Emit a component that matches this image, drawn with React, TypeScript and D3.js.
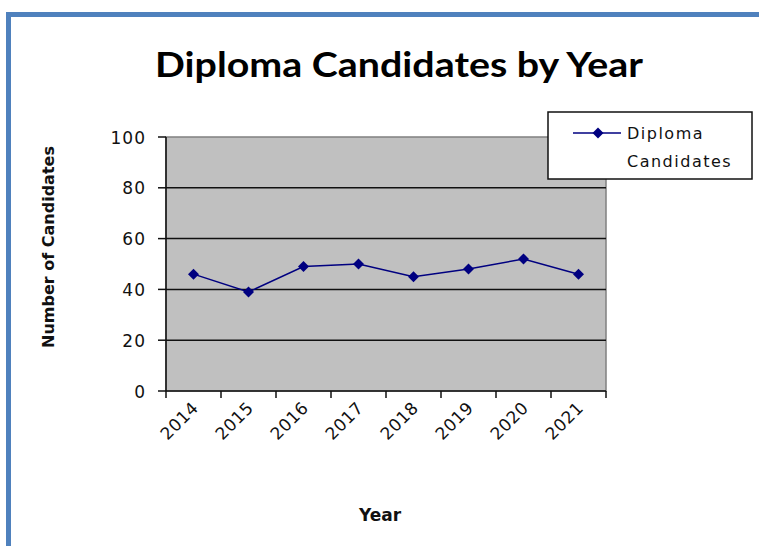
import React from "react";
import * as d3 from "d3";

const years = ["2014", "2015", "2016", "2017", "2018", "2019", "2020", "2021"];
const candidates = [46, 39, 49, 50, 45, 48, 52, 46];
const yTicks = [0, 20, 40, 60, 80, 100];
const seriesName = ["Diploma", "Candidates"];

const W = 759;
const H = 546;
const plot = { left: 166, right: 606, top: 137, bottom: 391 };
const tickFont = "'DejaVu Sans', Verdana, sans-serif";

export default function App() {
  const x = d3.scaleBand<string>().domain(years).range([plot.left, plot.right]);
  const y = d3.scaleLinear().domain([0, 100]).range([plot.bottom, plot.top]);
  const line = d3
    .line<number>()
    .x((_, i) => (x(years[i]) as number) + x.bandwidth() / 2)
    .y((d) => y(d));
  const diamond = (cx: number, cy: number, r: number) =>
    `M${cx},${cy - r}L${cx + r},${cy}L${cx},${cy + r}L${cx - r},${cy}Z`;
  const boundaries = d3.range(years.length + 1).map((i) => plot.left + i * x.bandwidth());

  return (
    <svg
      width={W}
      height={H}
      style={{ position: "absolute", left: 0, top: 0, background: "#fff" }}
    >
      <rect x={8.5} y={14.5} width={900} height={700} fill="#fff" stroke="#4f81bd" strokeWidth={5} />
      <text
        x={155}
        y={77}
        textLength={488}
        lengthAdjust="spacingAndGlyphs"
        fontFamily="Lato, 'Open Sans', sans-serif"
        fontWeight="bold"
        fontSize={35}
        fill="#000"
      >
        Diploma Candidates by Year
      </text>

      <rect
        x={plot.left}
        y={plot.top}
        width={plot.right - plot.left}
        height={plot.bottom - plot.top}
        fill="#c0c0c0"
        stroke="#808080"
        strokeWidth={1.5}
      />
      {yTicks.slice(1, -1).map((t) => (
        <line key={t} x1={plot.left} x2={plot.right} y1={y(t)} y2={y(t)} stroke="#111" strokeWidth={1.5} />
      ))}
      {/* y axis */}
      <line x1={plot.left} x2={plot.left} y1={plot.top} y2={plot.bottom} stroke="#111" strokeWidth={1.5} />
      {yTicks.map((t) => (
        <g key={t}>
          <line x1={plot.left - 8} x2={plot.left} y1={y(t)} y2={y(t)} stroke="#111" strokeWidth={1.5} />
          <text
            x={146}
            y={y(t) + 6.5}
            textAnchor="end"
            fontFamily={tickFont}
            fontSize={17}
            letterSpacing={1}
            fill="#111"
          >
            {t}
          </text>
        </g>
      ))}
      {/* x axis */}
      <line x1={plot.left} x2={plot.right} y1={plot.bottom} y2={plot.bottom} stroke="#111" strokeWidth={1.5} />
      {boundaries.map((bx, i) => (
        <line key={i} x1={bx} x2={bx} y1={plot.bottom} y2={plot.bottom + 7} stroke="#111" strokeWidth={1.5} />
      ))}
      {years.map((yr) => {
        const cx = (x(yr) as number) + x.bandwidth() / 2 + 6;
        const cy = 409;
        return (
          <text
            key={yr}
            x={cx}
            y={cy}
            textAnchor="end"
            transform={`rotate(-45 ${cx} ${cy})`}
            fontFamily={tickFont}
            fontSize={17}
            letterSpacing={0.5}
            fill="#111"
          >
            {yr}
          </text>
        );
      })}

      {/* series */}
      <path d={line(candidates) || ""} fill="none" stroke="#000080" strokeWidth={1.5} />
      {candidates.map((v, i) => (
        <path
          key={i}
          d={diamond((x(years[i]) as number) + x.bandwidth() / 2, y(v), 5.5)}
          fill="#000080"
        />
      ))}

      {/* axis titles */}
      <text
        x={380}
        y={521}
        textAnchor="middle"
        fontFamily={tickFont}
        fontWeight="bold"
        fontSize={17}
        fill="#111"
      >
        Year
      </text>
      <text
        transform={`translate(54,247) rotate(-90)`}
        textAnchor="middle"
        fontFamily={tickFont}
        fontWeight="bold"
        fontSize={16}
        fill="#111"
      >
        Number of Candidates
      </text>

      {/* legend */}
      <rect x={548} y={112} width={204} height={67} fill="#fff" stroke="#111" strokeWidth={1.5} />
      <line x1={573} x2={621} y1={133} y2={133} stroke="#000080" strokeWidth={1.5} />
      <path d={diamond(598, 133, 5.5)} fill="#000080" />
      {seriesName.map((s, i) => (
        <text
          key={s}
          x={627}
          y={139 + i * 28}
          fontFamily={tickFont}
          fontSize={16}
          letterSpacing={1.5}
          fill="#111"
        >
          {s}
        </text>
      ))}
    </svg>
  );
}
